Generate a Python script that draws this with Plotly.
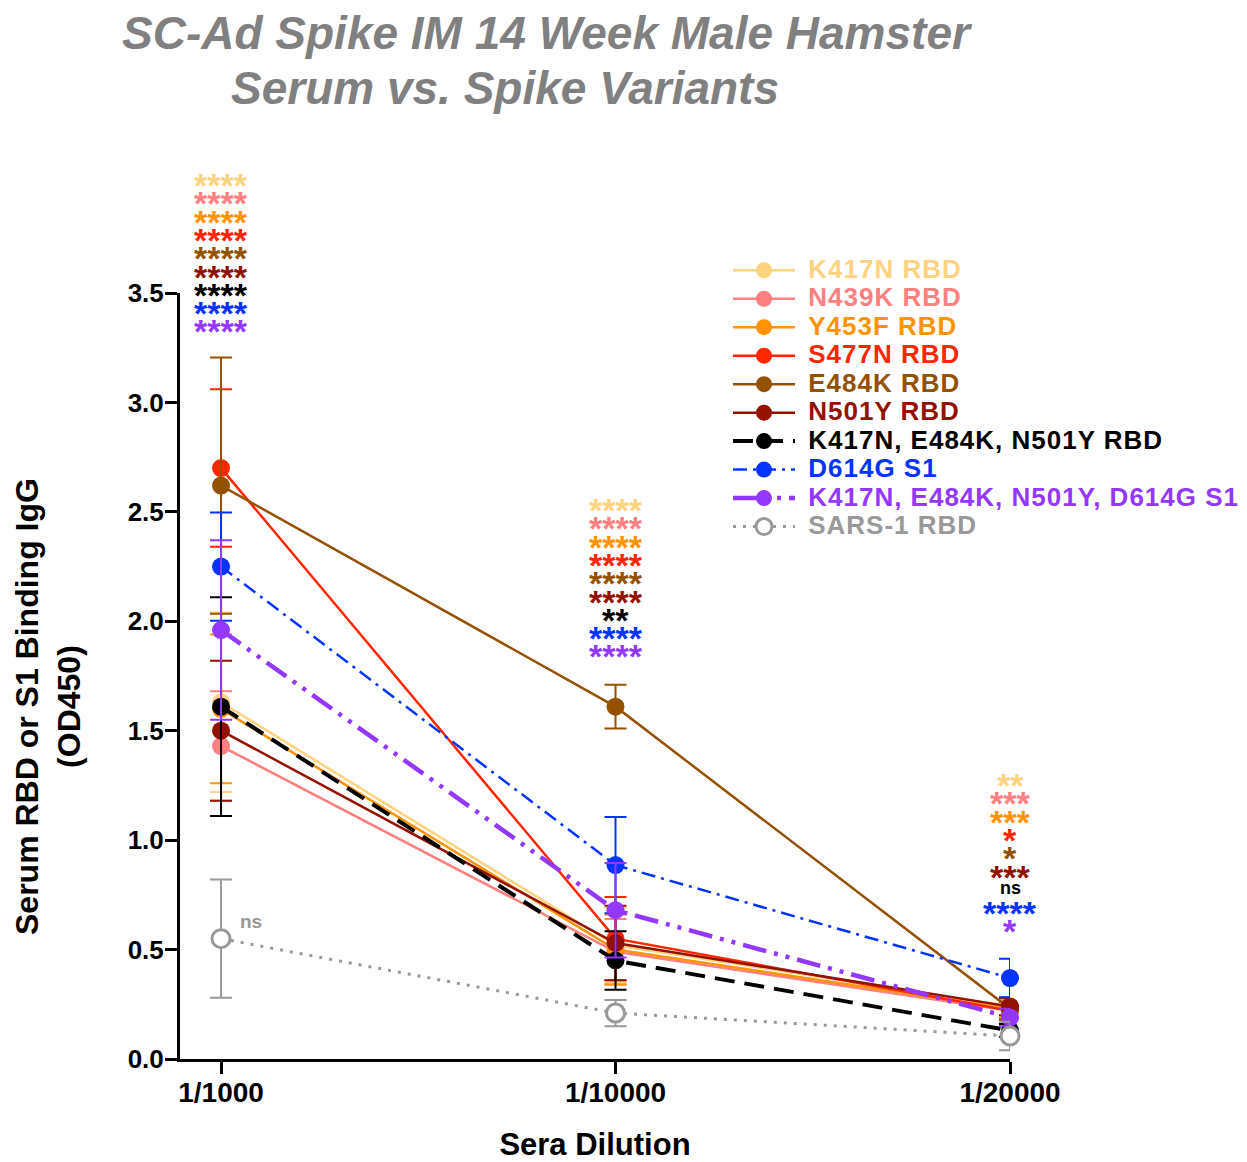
import plotly.graph_objects as go

dilutions = ["1/1000", "1/10000", "1/20000"]

series_names = ["K417N RBD", "N439K RBD", "Y453F RBD", "S477N RBD", "E484K RBD",
                "N501Y RBD", "K417N, E484K, N501Y RBD", "D614G S1",
                "K417N, E484K, N501Y, D614G S1", "SARS-1 RBD"]

k417n = [1.63, 0.52, 0.24]
k417n_sd = [0.41, 0.17, 0.04]
n439k = [1.43, 0.49, 0.22]
n439k_sd = [0.25, 0.15, 0.04]
y453f = [1.60, 0.50, 0.23]
y453f_sd = [0.34, 0.16, 0.04]
s477n = [2.70, 0.55, 0.22]
s477n_sd = [0.36, 0.19, 0.04]
e484k = [2.62, 1.61, 0.23]
e484k_sd = [0.585, 0.10, 0.05]
n501y = [1.50, 0.53, 0.24]
n501y_sd = [0.32, 0.17, 0.04]
triple = [1.61, 0.45, 0.13]
triple_sd = [0.50, 0.134, 0.03]
d614g = [2.25, 0.886, 0.37]
d614g_sd = [0.247, 0.22, 0.088]
quad = [1.96, 0.68, 0.19]
quad_sd = [0.41, 0.216, 0.04]
sars1 = [0.55, 0.21, 0.105]
sars1_sd = [0.27, 0.06, 0.065]

sig_1000 = ["****"] * 9
sig_10000 = ["****", "****", "****", "****", "****", "****", "**", "****", "****"]
sig_20000 = ["**", "***", "***", "*", "*", "***", "ns", "****", "*"]
sig_sars_1000 = "ns"

values = [k417n, n439k, y453f, s477n, e484k, n501y, triple, d614g, quad, sars1]
sds = [k417n_sd, n439k_sd, y453f_sd, s477n_sd, e484k_sd, n501y_sd, triple_sd, d614g_sd, quad_sd, sars1_sd]

colors = ["#FFD37F", "#FF8080", "#FF9300", "#FF2600", "#945200", "#941100",
          "#000000", "#0433FF", "#9437FF", "#999999"]
dashes = ["solid"] * 6 + ["20px,10px", "14px,6px,3px,6px", "24px,8px,4px,8px,4px,8px", "3px,7px"]
widths = [2.5] * 6 + [4, 2.5, 4.5, 3]

FONT = "Liberation Sans"
YMAX = 3.5

# page has an 8px body margin; plot area sits at x 180..1010, y 293..1059 in the page
fig = go.Figure()
for name, v, sd, c, d, w in zip(series_names, values, sds, colors, dashes, widths):
    is_open = name == "SARS-1 RBD"
    fig.add_trace(go.Scatter(
        x=dilutions, y=v,
        name=f"<span style='color:{c};font-size:26px;letter-spacing:1px'>&nbsp;{name}</span>",
        mode="lines+markers",
        line=dict(color=c, width=w, dash=d),
        marker=dict(size=18, symbol="circle",
                    color="white" if is_open else c,
                    line=dict(color=c, width=3 if is_open else 0)),
        error_y=dict(type="data", array=sd, visible=True, color=c, thickness=2, width=11),
        cliponaxis=False,
    ))


def py_to_paper(py):
    return (1059 - py) / 766


def px_to_paper(px):
    return (px - 180) / 830


star_colors = colors[:9]
annotations = []
for xi, labels, top_px in [(0, sig_1000, 178), (1, sig_10000, 503), (2, sig_20000, 778)]:
    for i, (lab, c) in enumerate(zip(labels, star_colors)):
        is_ns = lab == "ns"
        annotations.append(dict(
            x=dilutions[xi], y=py_to_paper(top_px + i * 18.3), xref="x", yref="paper",
            text=lab, showarrow=False, xanchor="center", yanchor="middle",
            font=dict(family=FONT, size=18 if is_ns else 34, color=c, weight="bold"),
            yshift=0 if is_ns else -7,
        ))
annotations.append(dict(x=dilutions[0], y=sars1[0] + 0.08, xref="x", yref="y",
                        text=sig_sars_1000, showarrow=False, xshift=30,
                        font=dict(family=FONT, size=19, color="#999999", weight="bold")))

title_font = dict(family=FONT, size=46, color="#808080", weight="bold", style="italic")
annotations.append(dict(x=px_to_paper(547), y=py_to_paper(33), xref="paper", yref="paper",
                        xanchor="center", yanchor="middle",
                        text="SC-Ad Spike IM 14 Week Male Hamster", showarrow=False, font=title_font))
annotations.append(dict(x=px_to_paper(505), y=py_to_paper(88), xref="paper", yref="paper",
                        xanchor="center", yanchor="middle",
                        text="Serum vs. Spike Variants", showarrow=False, font=title_font))
# y-axis title
annotations.append(dict(x=px_to_paper(48), y=py_to_paper(707), xref="paper", yref="paper",
                        xanchor="center", yanchor="middle", textangle=-90,
                        text="Serum RBD or S1 Binding IgG<br>(OD450)", showarrow=False,
                        font=dict(family=FONT, size=32, color="black", weight="bold")))

fig.update_layout(
    width=1239, height=1154,
    paper_bgcolor="white", plot_bgcolor="white",
    margin=dict(l=172, r=237, t=285, b=103, autoexpand=False),
    showlegend=True,
    legend=dict(x=px_to_paper(728), y=py_to_paper(251), xanchor="left", yanchor="top",
                font=dict(family=FONT, size=19.6, weight="bold"),
                itemwidth=62, tracegroupgap=0, bgcolor="rgba(0,0,0,0)"),
    font=dict(family=FONT, color="black"),
    annotations=annotations,
)

fig.update_xaxes(
    type="category", range=[-0.104, 2.0],
    showline=True, linecolor="black", linewidth=3,
    ticks="outside", ticklen=12, tickwidth=3, tickcolor="black",
    tickfont=dict(family=FONT, size=28, color="black", weight="bold"),
    ticklabelstandoff=-6,
    title=dict(text="Sera Dilution", font=dict(family=FONT, size=31, color="black", weight="bold"), standoff=30),
    showgrid=False, zeroline=False,
)
fig.update_yaxes(
    range=[0, YMAX], tickvals=[0, 0.5, 1, 1.5, 2, 2.5, 3, 3.5], tickformat=".1f",
    showline=True, linecolor="black", linewidth=3,
    ticks="outside", ticklen=12, tickwidth=3, tickcolor="black",
    tickfont=dict(family=FONT, size=26, color="black", weight="bold"),
    ticklabelstandoff=-4,
    showgrid=False, zeroline=False,
)

fig.write_html("out.html")
